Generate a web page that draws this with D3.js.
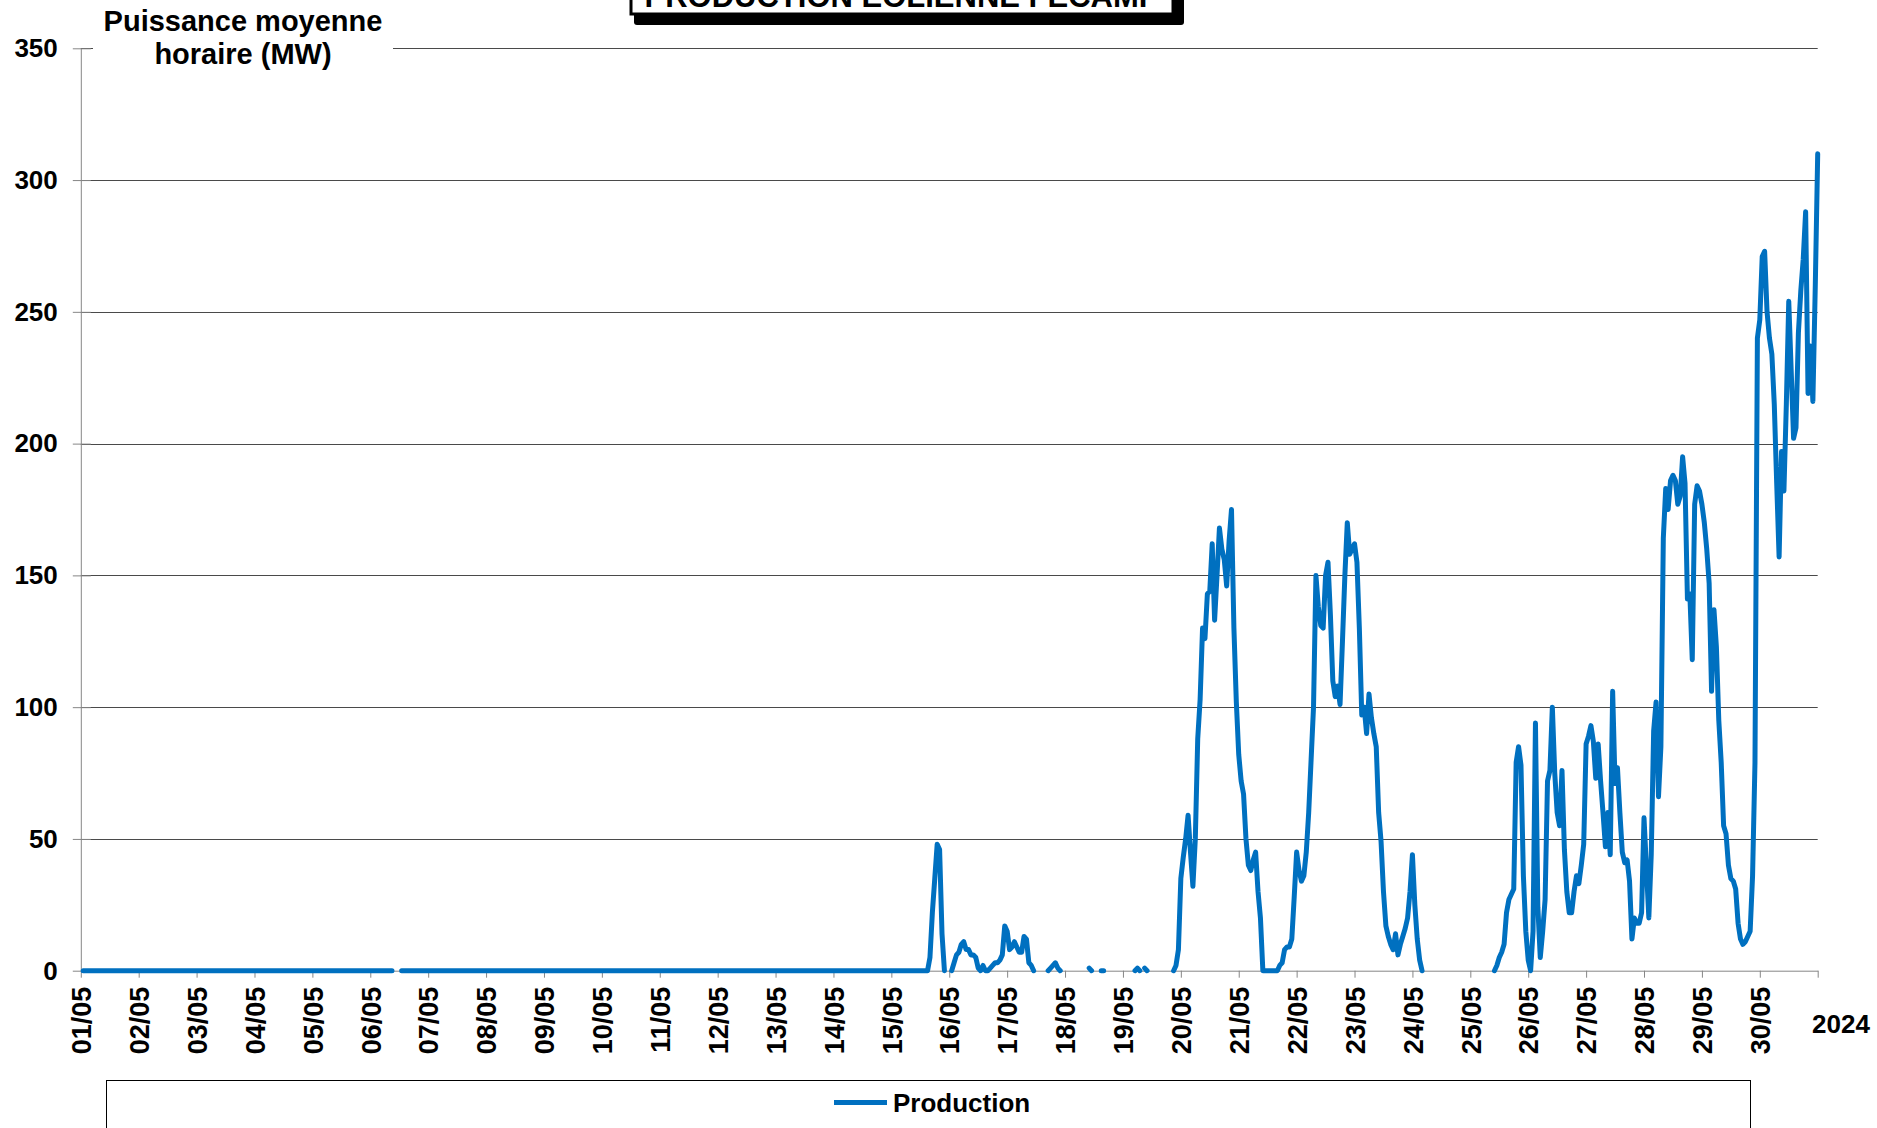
<!DOCTYPE html>
<html>
<head>
<meta charset="utf-8">
<script src="https://cdn.jsdelivr.net/npm/d3@7"></script>
<style>
  html, body { margin: 0; padding: 0; background: #fff; }
  svg { display: block; }
  text { font-family: "Liberation Sans", Arial, sans-serif; font-weight: bold; fill: #000; }
</style>
</head>
<body>
<svg id="chart" width="1877" height="1128"></svg>
<script>
// Day labels on the time axis and value ticks on the power axis
const dayLabels = ["01/05","02/05","03/05","04/05","05/05","06/05","07/05","08/05","09/05","10/05",
  "11/05","12/05","13/05","14/05","15/05","16/05","17/05","18/05","19/05","20/05",
  "21/05","22/05","23/05","24/05","25/05","26/05","27/05","28/05","29/05","30/05"];
const yTicks = [0, 50, 100, 150, 200, 250, 300, 350];
const yearLabel = "2024";
const seriesName = "Production";

// Hourly mean output (MW), one array per day, hour-ending 01:00 .. 24:00; null = no data
const may01 = [0,0,0,0,0,0,0,0,0,0,0,0,0,0,0,0,0,0,0,0,0,0,0,0];
const may02 = [0,0,0,0,0,0,0,0,0,0,0,0,0,0,0,0,0,0,0,0,0,0,0,0];
const may03 = [0,0,0,0,0,0,0,0,0,0,0,0,0,0,0,0,0,0,0,0,0,0,0,0];
const may04 = [0,0,0,0,0,0,0,0,0,0,0,0,0,0,0,0,0,0,0,0,0,0,0,0];
const may05 = [0,0,0,0,0,0,0,0,0,0,0,0,0,0,0,0,0,0,0,0,0,0,0,0];
const may06 = [0,0,0,0,0,0,0,0,0,null,null,null,0,0,0,0,0,0,0,0,0,0,0,0];
const may07 = [0,0,0,0,0,0,0,0,0,0,0,0,0,0,0,0,0,0,0,0,0,0,0,0];
const may08 = [0,0,0,0,0,0,0,0,0,0,0,0,0,0,0,0,0,0,0,0,0,0,0,0];
const may09 = [0,0,0,0,0,0,0,0,0,0,0,0,0,0,0,0,0,0,0,0,0,0,0,0];
const may10 = [0,0,0,0,0,0,0,0,0,0,0,0,0,0,0,0,0,0,0,0,0,0,0,0];
const may11 = [0,0,0,0,0,0,0,0,0,0,0,0,0,0,0,0,0,0,0,0,0,0,0,0];
const may12 = [0,0,0,0,0,0,0,0,0,0,0,0,0,0,0,0,0,0,0,0,0,0,0,0];
const may13 = [0,0,0,0,0,0,0,0,0,0,0,0,0,0,0,0,0,0,0,0,0,0,0,0];
const may14 = [0,0,0,0,0,0,0,0,0,0,0,0,0,0,0,0,0,0,0,0,0,0,0,0];
const may15 = [0,0,0,0,0,0,0,0,0,0,0,0,0,0,0,5,22,35,48,46,14,0,null,null];
const may16 = [0,3,6,7,10,11,8,8,6,6,5,1,0,2,0,0,1,2,3,3,4,6,17,15];
const may17 = [8,9,11,9,7,7,13,12,3,2,0,null,null,null,null,null,0,1,2,3,1,0,null,null];
const may18 = [null,null,null,null,null,null,null,null,null,1,0,null,null,null,0,0,null,null,null,null,null,null,null,null];
const may19 = [null,null,null,null,0,1,0,null,1,0,null,null,null,null,null,null,null,null,null,null,0,2,8,35];
const may20 = [43,50,59,45,32,50,88,103,130,126,143,144,162,133,150,168,160,156,146,163,175,130,102,82];
const may21 = [72,67,50,40,38,42,45,30,20,0,0,0,0,0,0,0,2,3,8,9,9,12,28,45];
const may22 = [38,34,36,45,60,80,100,150,138,131,130,150,155,135,110,104,108,101,125,150,170,158,160,162];
const may23 = [155,130,97,100,90,105,96,90,85,60,49,30,17,13,10,8,14,6,10,13,16,20,30,44];
const may24 = [25,12,4,0,null,null,null,null,null,null,null,null,null,null,null,null,null,null,null,null,null,null,null,null];
const may25 = [null,null,null,null,null,null,null,null,null,0,2,5,7,10,22,27,29,31,79,85,78,36,15,4];
const may26 = [0,15,94,24,5,15,27,72,76,100,75,60,55,76,46,30,22,22,30,36,33,40,48,86];
const may27 = [89,93,87,73,86,72,60,47,60,44,106,71,77,60,45,41,42,34,12,20,18,18,22,58];
const may28 = [39,20,44,91,102,66,85,164,183,175,186,188,186,177,180,195,185,141,143,118,177,184,182,177];
const may29 = [170,160,147,106,137,123,95,79,55,52,40,35,34,31,18,12,10,11,13,15,36,79,240,247];
const may30 = [271,273,250,240,234,215,185,157,197,182,215,254,228,202,206,242,258,270,288,219,237,216,260,310];

const hourly = [may01,may02,may03,may04,may05,may06,may07,may08,may09,may10,
  may11,may12,may13,may14,may15,may16,may17,may18,may19,may20,
  may21,may22,may23,may24,may25,may26,may27,may28,may29,may30].flat();
// each hourly mean is placed at the end of its hour
const points = hourly.map((v, i) => ({ h: i + 1, v }));

const svg = d3.select("#chart");
const blue = "#0070C0";
const axisGrey = "#868686";

const x = d3.scaleLinear().domain([0, 720]).range([80.8, 1817.7]);
const y = d3.scaleLinear().domain([0, 350]).range([970.7, 48.3]);

// horizontal grid
svg.append("g").selectAll("line").data(yTicks.filter(d => d > 0)).join("line")
  .attr("x1", x(0)).attr("x2", x(720))
  .attr("y1", d => Math.round(y(d)) + 0.5).attr("y2", d => Math.round(y(d)) + 0.5)
  .attr("stroke", "#4a4a4a").attr("stroke-width", 1);

// power axis
const yAxis = svg.append("g").attr("transform", `translate(${x(0)},0)`)
  .call(d3.axisLeft(y).tickValues(yTicks).tickSize(8).tickSizeOuter(0).tickPadding(15));
yAxis.select(".domain").attr("stroke", axisGrey);
yAxis.selectAll(".tick line").attr("stroke", axisGrey).attr("x1", 10);
yAxis.selectAll(".tick text")
  .style("font-family", '"Liberation Sans", Arial, sans-serif')
  .style("font-weight", "bold").style("font-size", "26px").attr("fill", "#000");

// time axis: one tick per day
const xAxis = svg.append("g").attr("transform", `translate(0,${y(0)})`)
  .call(d3.axisBottom(x).tickValues(d3.range(0, 721, 24)).tickSize(7).tickSizeOuter(0)
    .tickFormat((d, i) => dayLabels[i] || ""));
xAxis.select(".domain").attr("stroke", axisGrey);
xAxis.selectAll(".tick line").attr("stroke", axisGrey);
xAxis.selectAll(".tick text")
  .style("font-family", '"Liberation Sans", Arial, sans-serif')
  .style("font-weight", "bold").style("font-size", "27px").attr("fill", "#000")
  .attr("transform", "rotate(-90)")
  .attr("text-anchor", "end")
  .attr("x", -16).attr("y", 0).attr("dy", "0.36em");

svg.append("text").attr("x", 1812).attr("y", 1033)
  .style("font-size", "26px").text(yearLabel);

// axis title on a white patch
svg.append("rect").attr("x", 93).attr("y", 0).attr("width", 300).attr("height", 76).attr("fill", "#fff");
const yTitle = svg.append("text").attr("text-anchor", "middle").style("font-size", "29px");
yTitle.append("tspan").attr("x", 243).attr("y", 31).text("Puissance moyenne");
yTitle.append("tspan").attr("x", 243).attr("y", 64).text("horaire (MW)");

// production series
const line = d3.line()
  .defined(d => d.v !== null)
  .x(d => x(d.h))
  .y(d => y(d.v));
svg.append("path").datum(points)
  .attr("d", line)
  .attr("fill", "none")
  .attr("stroke", blue)
  .attr("stroke-width", 5)
  .attr("stroke-linejoin", "round")
  .attr("stroke-linecap", "round");

// title box with drop shadow
svg.append("rect").attr("x", 634).attr("y", -40).attr("width", 550).attr("height", 65)
  .attr("rx", 3).attr("fill", "#000");
svg.append("rect").attr("x", 631).attr("y", -40).attr("width", 542).attr("height", 54)
  .attr("fill", "#fff").attr("stroke", "#000").attr("stroke-width", 3);
svg.append("text").attr("x", 902).attr("y", 7).attr("text-anchor", "middle")
  .style("font-size", "31px").text("PRODUCTION EOLIENNE FECAMP");

// legend
svg.append("rect").attr("x", 106.5).attr("y", 1080.5).attr("width", 1644).attr("height", 100)
  .attr("fill", "#fff").attr("stroke", "#000").attr("stroke-width", 1);
svg.append("line").attr("x1", 834).attr("x2", 887).attr("y1", 1102.5).attr("y2", 1102.5)
  .attr("stroke", blue).attr("stroke-width", 5);
svg.append("text").attr("x", 893).attr("y", 1111.5).style("font-size", "26px").text(seriesName);
</script>
</body>
</html>
